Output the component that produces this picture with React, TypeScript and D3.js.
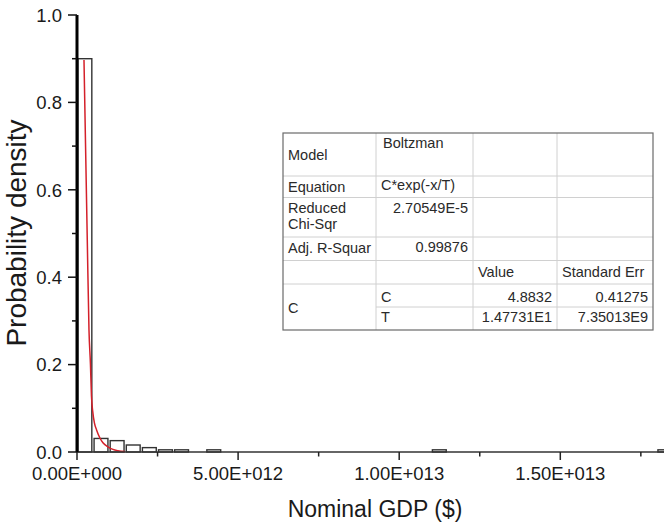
import * as d3 from "d3";

// histogram bins (bin width 5E11 $), relative frequency
const binWidth = 5e11;
const binIndex = [0, 1, 2, 3, 4, 5, 6, 8, 22, 36];
const binDensity = [0.9, 0.031, 0.026, 0.016, 0.01, 0.005, 0.005, 0.005, 0.005, 0.005];

// fitted Boltzman decay curve
const fitX = [0.217e12, 0.319e12, 0.372e12, 0.418e12, 0.449e12, 0.486e12, 0.542e12, 0.61e12, 0.712e12, 0.805e12, 0.96e12, 1.115e12, 1.27e12, 1.49e12];
const fitY = [0.897, 0.485, 0.279, 0.2, 0.128, 0.094, 0.066, 0.05, 0.032, 0.021, 0.012, 0.006, 0.003, 0.001];

const xMajor = [0, 5e12, 1e13, 1.5e13];
const xMinor = [2.5e12, 7.5e12, 1.25e13, 1.75e13];
const yMajor = [0, 0.2, 0.4, 0.6, 0.8, 1.0];
const yMinor = [0.1, 0.3, 0.5, 0.7, 0.9];

// fit report table
const tableCols = [283, 376, 473, 557, 653];
const tableRows = [133, 176, 197.5, 237, 260.5, 284, 307, 330];
const tableCells = [
  { text: "Model", col: 0, y: 154.5, align: "start" },
  { text: "Boltzman", col: 1, y: 143, align: "start", dx: 2 },
  { text: "Equation", col: 0, y: 186.5, align: "start" },
  { text: "C*exp(-x/T)", col: 1, y: 184.5, align: "start" },
  { text: "Reduced", col: 0, y: 208, align: "start" },
  { text: "Chi-Sqr", col: 0, y: 224, align: "start" },
  { text: "2.70549E-5", col: 1, y: 208, align: "end" },
  { text: "Adj. R-Squar", col: 0, y: 248, align: "start" },
  { text: "0.99876", col: 1, y: 246.5, align: "end" },
  { text: "Value", col: 2, y: 271.5, align: "start" },
  { text: "Standard Err", col: 3, y: 271.5, align: "start" },
  { text: "C", col: 0, y: 307.5, align: "start" },
  { text: "C", col: 1, y: 296.5, align: "start" },
  { text: "4.8832", col: 2, y: 296.5, align: "end" },
  { text: "0.41275", col: 3, y: 296.5, align: "end" },
  { text: "T", col: 1, y: 317, align: "start" },
  { text: "1.47731E1", col: 2, y: 317, align: "end" },
  { text: "7.35013E9", col: 3, y: 317, align: "end" },
];

const font = "'Liberation Sans', Arial, sans-serif";

const sciFormat = (v) => {
  if (v === 0) return "0.00E+000";
  const e = Math.floor(Math.log10(v));
  const m = v / Math.pow(10, e);
  return `${m.toFixed(2)}E+${String(e).padStart(3, "0")}`;
};

export default function App() {
  const width = 664;
  const height = 525;
  const x0 = 77;
  const yBase = 452;

  const xScale = d3.scaleLinear().domain([0, 2e13]).range([x0, x0 + 161.1 * 4]);
  const yScale = d3.scaleLinear().domain([0, 1]).range([yBase, 15]);

  const line = d3
    .line()
    .x((d) => xScale(d[0]))
    .y((d) => yScale(d[1]))
    .curve(d3.curveMonotoneX);
  const fitPath = line(fitX.map((x, i) => [x, fitY[i]]));

  const barW = xScale(binWidth) - xScale(0);

  return (
    <svg
      width={width}
      height={height}
      style={{ position: "absolute", left: 0, top: 0, background: "#fff" }}
      fontFamily={font}
    >
      {/* bars */}
      {binIndex.map((b, i) => {
        const left = xScale(b * binWidth) + barW * 0.06;
        const top = yScale(binDensity[i]);
        return (
          <rect
            key={b}
            x={left}
            y={top}
            width={barW * 0.86}
            height={yBase - top}
            fill="#fff"
            stroke="#333"
            strokeWidth={1.4}
          />
        );
      })}

      {/* fit curve */}
      <path d={fitPath} fill="none" stroke="#d4202a" strokeWidth={1.5} />

      {/* x axis */}
      <line x1={x0} x2={width} y1={yBase} y2={yBase} stroke="#333" strokeWidth={1.5} />
      {xMajor.map((t) => (
        <g key={t}>
          <line x1={xScale(t)} x2={xScale(t)} y1={yBase} y2={yBase + 8} stroke="#222" strokeWidth={1.5} />
          <text x={xScale(t)} y={480} textAnchor="middle" fontSize={18.5} fill="#1a1a1a">
            {sciFormat(t)}
          </text>
        </g>
      ))}
      {xMinor.map((t) => (
        <line key={t} x1={xScale(t)} x2={xScale(t)} y1={yBase} y2={yBase + 4.5} stroke="#222" strokeWidth={1.5} />
      ))}

      {/* y axis */}
      <line x1={x0} x2={x0} y1={yScale(1)} y2={yBase} stroke="#000" strokeWidth={3} />
      {yMajor.map((t) => (
        <g key={t}>
          <line x1={x0 - 9} x2={x0} y1={yScale(t)} y2={yScale(t)} stroke="#111" strokeWidth={1.5} />
          <text x={62} y={yScale(t) + 6.8} textAnchor="end" fontSize={18.5} fill="#1a1a1a">
            {t.toFixed(1)}
          </text>
        </g>
      ))}
      {yMinor.map((t) => (
        <line key={t} x1={x0 - 5} x2={x0} y1={yScale(t)} y2={yScale(t)} stroke="#111" strokeWidth={1.5} />
      ))}

      {/* axis titles */}
      <text x={375} y={516.5} textAnchor="middle" fontSize={23} fill="#1a1a1a">
        Nominal GDP ($)
      </text>
      <text
        transform="translate(26,233) rotate(-90)"
        textAnchor="middle"
        fontSize={28}
        fill="#1a1a1a"
      >
        Probability density
      </text>

      {/* fit table */}
      <g>
        <rect
          x={tableCols[0]}
          y={tableRows[0]}
          width={tableCols[4] - tableCols[0]}
          height={tableRows[7] - tableRows[0]}
          fill="#fff"
        />
        {tableRows.slice(1, 6).map((r) => (
          <line key={r} x1={tableCols[0]} x2={tableCols[4]} y1={r} y2={r} stroke="#d0d0d0" strokeWidth={1} />
        ))}
        <line x1={tableCols[1]} x2={tableCols[4]} y1={tableRows[6]} y2={tableRows[6]} stroke="#d0d0d0" strokeWidth={1} />
        {tableCols.slice(1, 4).map((c) => (
          <line key={c} x1={c} x2={c} y1={tableRows[0]} y2={tableRows[7]} stroke="#d0d0d0" strokeWidth={1} />
        ))}
        <rect
          x={tableCols[0]}
          y={tableRows[0]}
          width={tableCols[4] - tableCols[0]}
          height={tableRows[7] - tableRows[0]}
          fill="none"
          stroke="#6a6a6a"
          strokeWidth={1.2}
        />
        {tableCells.map((c, i) => {
          const left = tableCols[c.col];
          const right = tableCols[c.col + 1];
          const tx = c.align === "start" ? left + 5 + (c.dx || 0) : right - 5;
          return (
            <text key={i} x={tx} y={c.y + 5.2} textAnchor={c.align} fontSize={14.5} fill="#2a2a2a">
              {c.text}
            </text>
          );
        })}
      </g>
    </svg>
  );
}
